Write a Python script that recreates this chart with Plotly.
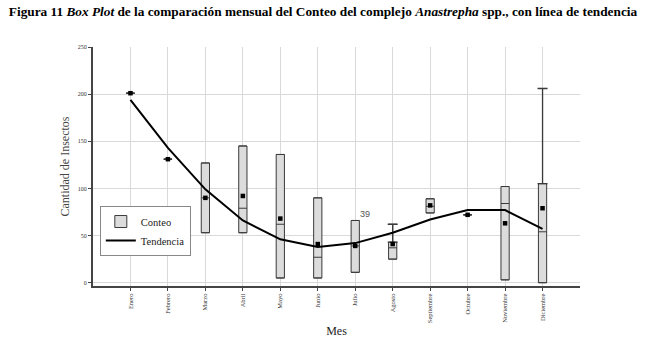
import plotly.graph_objects as go

meses = ["Enero", "Febrero", "Marzo", "Abril", "Mayo", "Junio", "Julio",
         "Agosto", "Septiembre", "Octubre", "Noviembre", "Diciembre"]
q1 = [201, 131, 53, 53, 5, 5, 11, 25, 74, 72, 3, 0]
mediana = [201, 131, 90, 79, 62, 27, 39, 37, 81, 72, 84, 54]
q3 = [201, 131, 127, 145, 136, 90, 66, 43, 89, 72, 102, 105]
bigote_sup = [201, 131, 127, 145, 136, 90, 66, 62, 89, 72, 102, 206]
media = [201, 131, 90, 92, 68, 41, 39, 41, 82, 72, 63, 79]
tendencia = [194, 143, 99, 66, 46, 38, 42, 53, 67, 77, 77, 57]

xs = list(range(len(meses)))
serif = "Liberation Serif, Times New Roman, serif"

fig = go.Figure()

fig.add_trace(go.Box(
    x=xs, q1=q1, median=mediana, q3=q3, lowerfence=q1, upperfence=bigote_sup,
    name="Conteo", fillcolor="#dcdcdc", line=dict(color="#3a3a3a", width=1),
    width=0.22, whiskerwidth=1, boxpoints=False, showlegend=True,
    hoverinfo="skip"))

# whisker caps
caps_x = [x for x, a, b in zip(xs, q3, bigote_sup) if b > a]
caps_y = [a for a, b in zip(q3, bigote_sup) if b > a]
caps_e = [b - a for a, b in zip(q3, bigote_sup) if b > a]
fig.add_trace(go.Scatter(
    x=caps_x, y=caps_y, mode="markers", marker=dict(size=1, color="rgba(0,0,0,0)"),
    error_y=dict(type="data", array=caps_e, arrayminus=[0] * len(caps_e),
                 symmetric=False, color="#3a3a3a", thickness=1.3, width=5),
    showlegend=False, hoverinfo="skip"))

fig.add_trace(go.Scatter(
    x=xs, y=tendencia, mode="lines", name="Tendencia",
    line=dict(color="black", width=2)))

fig.add_trace(go.Scatter(
    x=xs, y=media, mode="markers", marker=dict(symbol="square", size=4.5, color="black"),
    showlegend=False, hoverinfo="skip"))

fig.add_annotation(x=xs[6] + 0.27, y=q3[6] - 1, text="39", showarrow=False,
                   xanchor="center", yanchor="bottom",
                   font=dict(family="Liberation Sans, Arial", size=9, color="#555"))

fig.update_layout(
    title=dict(
        text="<b>Figura 11 <i>Box Plot</i> de la comparación mensual del Conteo del complejo "
             "<i>Anastrepha</i> spp., con línea de tendencia</b>",
        x=0.5, xanchor="center", y=0.967, yanchor="middle", yref="container",
        font=dict(family=serif, size=13.3, color="black")),
    width=646, height=338, margin=dict(l=93, r=66, t=47, b=52, autoexpand=False),
    paper_bgcolor="white", plot_bgcolor="white",
    showlegend=True,
    legend=dict(x=0.014, y=0.23, xanchor="left", yanchor="middle",
                bordercolor="#888", borderwidth=1, bgcolor="white",
                font=dict(family=serif, size=10.5, color="#222"),
                tracegroupgap=0, itemwidth=30),
    xaxis=dict(range=[-1, 12], tickmode="array", tickvals=xs, ticktext=meses,
               tickangle=-90, tickfont=dict(family=serif, size=6.5, color="#333"),
               showgrid=True, gridcolor="#d9d9d9", gridwidth=1, automargin=False,
               showline=True, linecolor="#444", linewidth=2,
               ticks="outside", ticklen=3, tickcolor="#444", zeroline=False,
               title=dict(text="Mes", font=dict(family=serif, size=12, color="#222"),
                          standoff=8)),
    yaxis=dict(range=[-3.5, 250], tickvals=[0, 50, 100, 150, 200, 250],
               tickfont=dict(family=serif, size=6, color="#333"), automargin=False,
               showgrid=True, gridcolor="#d9d9d9", gridwidth=1,
               showline=True, linecolor="#444", linewidth=2,
               ticks="outside", ticklen=3, tickcolor="#444", zeroline=False,
               title=dict(text="Cantidad de Insectos",
                          font=dict(family=serif, size=12, color="#444"), standoff=6)),
)

fig.write_html("out.html", post_script="document.body.style.margin='0';",
               config={"displayModeBar": False})
